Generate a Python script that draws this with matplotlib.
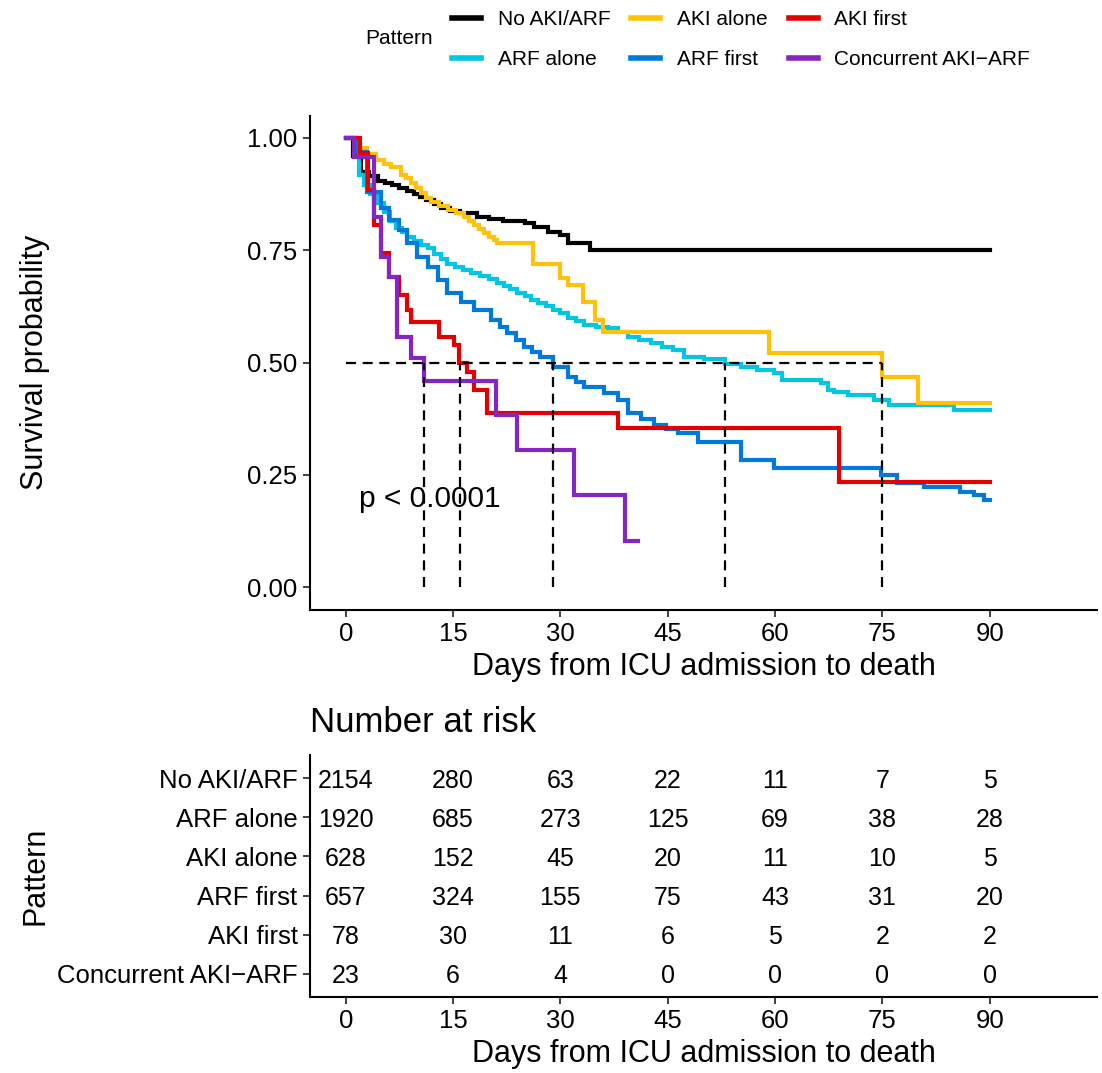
import numpy as np
import matplotlib
matplotlib.use("Agg")
import matplotlib.pyplot as plt
from matplotlib.lines import Line2D

plt.rcParams['font.family'] = ['Liberation Sans', 'DejaVu Sans']

# groups, colours
groups = ["No AKI/ARF", "ARF alone", "AKI alone", "ARF first", "AKI first", "Concurrent AKI\u2212ARF"]
colors = ["#000000", "#00C5E3", "#FFC20A", "#0079DD", "#E30000", "#8526C2"]

# Kaplan-Meier step points (time, survival)
t_none = [0, 1.0, 2.1, 3.2, 4.5, 5.5, 6.5, 7.4, 8.5, 9.5, 10.4, 11.2, 12.3, 13.3, 14.6, 16.0, 18.4, 20.0,
          22.0, 25.0, 26.3, 28.2, 30.0, 31.0, 34.2]
s_none = [1.0, 0.96, 0.925, 0.915, 0.905, 0.90, 0.895, 0.889, 0.882, 0.875, 0.868, 0.862, 0.853, 0.844,
          0.838, 0.833, 0.824, 0.82, 0.815, 0.81, 0.802, 0.79, 0.784, 0.766, 0.75]

t_arf = [0, 1.8, 2.6, 3.4, 4.5, 5.3, 6.2, 7.0, 7.8, 8.6, 9.6, 10.5, 11.5, 12.4, 13.3, 14.2, 15.3, 16.4,
         17.5, 18.8, 20.0, 21.2, 22.1, 23.0, 24.0, 25.0, 25.9, 26.8, 28.0, 29.0, 30.0, 31.0, 32.2, 33.3,
         35.0, 36.6, 38.0, 39.4, 41.0, 42.6, 44.2, 45.8, 47.3, 50.0, 53.0, 55.2, 57.5, 59.8, 61.0, 66.4,
         67.4, 68.2, 70.2, 73.8, 75.9, 85.0]
s_arf = [1.0, 0.917, 0.895, 0.875, 0.855, 0.835, 0.815, 0.80, 0.79, 0.78, 0.77, 0.762, 0.755, 0.742, 0.73,
         0.72, 0.712, 0.705, 0.70, 0.692, 0.685, 0.677, 0.67, 0.663, 0.655, 0.647, 0.64, 0.632, 0.625,
         0.617, 0.61, 0.60, 0.592, 0.583, 0.58, 0.577, 0.567, 0.557, 0.55, 0.543, 0.535, 0.528, 0.512,
         0.507, 0.497, 0.49, 0.484, 0.477, 0.461, 0.454, 0.439, 0.434, 0.428, 0.416, 0.405, 0.394]

t_aki = [0, 1.6, 3.0, 4.2, 5.3, 6.3, 7.7, 8.4, 9.1, 9.8, 10.5, 11.2, 11.9, 13.0, 14.3, 15.4, 16.5, 17.2,
         17.9, 18.6, 19.3, 20.0, 20.7, 21.2, 26.1, 30.0, 31.0, 33.1, 34.9, 35.9, 59.1, 75.0, 80.0]
s_aki = [1.0, 0.978, 0.965, 0.951, 0.943, 0.935, 0.918, 0.91, 0.90, 0.889, 0.877, 0.867, 0.857, 0.848,
         0.84, 0.832, 0.824, 0.815, 0.806, 0.797, 0.788, 0.78, 0.773, 0.766, 0.72, 0.688, 0.672, 0.635,
         0.594, 0.568, 0.521, 0.468, 0.41]

t_arf1 = [0, 1.4, 3.0, 4.9, 6.0, 7.5, 8.6, 10.0, 11.5, 12.9, 14.2, 16.1, 17.9, 20.3, 21.5, 22.6, 23.8,
          24.9, 26.0, 27.2, 28.9, 31.0, 32.2, 33.3, 36.1, 38.0, 39.4, 41.2, 43.1, 44.8, 46.4, 49.2, 55.2,
          59.8, 74.8, 77.1, 80.8, 85.9, 87.8, 89.2]
s_arf1 = [1.0, 0.968, 0.88, 0.845, 0.817, 0.795, 0.766, 0.735, 0.713, 0.684, 0.655, 0.635, 0.617, 0.595,
          0.58, 0.566, 0.55, 0.535, 0.523, 0.512, 0.49, 0.468, 0.456, 0.445, 0.432, 0.416, 0.388, 0.375,
          0.361, 0.352, 0.343, 0.323, 0.283, 0.265, 0.249, 0.232, 0.223, 0.212, 0.205, 0.194]

t_aki1 = [0, 2.0, 3.1, 4.0, 4.9, 6.0, 7.4, 8.6, 9.1, 13.0, 15.1, 15.8, 17.0, 17.9, 19.8, 38.0, 68.9]
s_aki1 = [1.0, 0.967, 0.884, 0.806, 0.744, 0.69, 0.65, 0.617, 0.59, 0.557, 0.539, 0.499, 0.479, 0.439,
          0.388, 0.354, 0.234]

t_conc = [0, 1.1, 4.0, 4.9, 6.0, 7.1, 9.1, 10.9, 21.0, 24.0, 31.9, 39.0]
s_conc = [1.0, 0.957, 0.824, 0.735, 0.69, 0.556, 0.51, 0.459, 0.383, 0.305, 0.205, 0.102]

end_times = [90, 90, 90, 90, 90, 40.8]
curves = [(t_none, s_none), (t_arf, s_arf), (t_aki, s_aki), (t_arf1, s_arf1), (t_aki1, s_aki1), (t_conc, s_conc)]
medians = [10.9, 15.9, 28.9, 53.0, 75.0]

# numbers at risk
risk_times = [0, 15, 30, 45, 60, 75, 90]
risk = {
    "No AKI/ARF": [2154, 280, 63, 22, 11, 7, 5],
    "ARF alone": [1920, 685, 273, 125, 69, 38, 28],
    "AKI alone": [628, 152, 45, 20, 11, 10, 5],
    "ARF first": [657, 324, 155, 75, 43, 31, 20],
    "AKI first": [78, 30, 11, 6, 5, 2, 2],
    "Concurrent AKI\u2212ARF": [23, 6, 4, 0, 0, 0, 0],
}

W, H = 1102, 1073
fig = plt.figure(figsize=(W / 100, H / 100), dpi=100)

def style(ax):
    for sp in ["top", "right"]:
        ax.spines[sp].set_visible(False)
    for sp in ["left", "bottom"]:
        ax.spines[sp].set_linewidth(1.5)
    ax.tick_params(axis="both", length=5, width=1.3, labelsize=18.5, colors="#333333", labelcolor="black", pad=4)

# survival plot
ax = fig.add_axes([310 / W, 1 - 609.5 / H, 787 / W, 494 / H])
style(ax)
for (t, s), end, c in zip(curves, end_times, colors):
    ax.step(list(t) + [end], list(s) + [s[-1]], where="post", color=c, lw=3, solid_joinstyle="miter")
dash = (0, (4.5, 3))
ax.plot([0, max(medians)], [0.5, 0.5], color="black", lw=1.6, linestyle=dash)
for m in medians:
    ax.plot([m, m], [0, 0.5], color="black", lw=1.6, linestyle=dash)
ax.text(1.8, 0.195, "p < 0.0001", fontsize=21.5, va="center", ha="left")
ax.set_xlim(-5, 105)
ax.set_ylim(-0.05, 1.05)
ax.set_xticks(risk_times)
ax.set_yticks([0, 0.25, 0.5, 0.75, 1.0])
ax.set_yticklabels(["0.00", "0.25", "0.50", "0.75", "1.00"])
ax.set_xlabel("Days from ICU admission to death", fontsize=22, labelpad=4)
fig.text(35 / W, 1 - 362 / H, "Survival probability", rotation=90, fontsize=22, ha="center", va="center")

# legend
handles = [Line2D([], [], color=c, lw=4) for c in colors]
fig.legend(handles, groups, ncol=3, frameon=False,
           loc="upper left", bbox_to_anchor=(452 / W, 1 - 10 / H), fontsize=15, handlelength=1.4,
           handletextpad=0.8, columnspacing=1.0, labelspacing=1.0, borderpad=0, borderaxespad=0)
fig.text(365 / W, 1 - 39 / H, "Pattern", fontsize=15, ha="left", va="center")

# risk table
ax2 = fig.add_axes([310 / W, 1 - 997 / H, 787 / W, 242 / H])
style(ax2)
n = len(groups)
for i, g in enumerate(groups):
    y = n - i
    for t, v in zip(risk_times, risk[g]):
        ax2.text(t, y, str(v), ha="center", va="center_baseline", fontsize=18)
ax2.set_xlim(-5, 105)
ax2.set_ylim(0.4, n + 0.6)
ax2.set_xticks(risk_times)
ax2.set_yticks([n - i for i in range(n)])
ax2.set_yticklabels(groups)
ax2.set_xlabel("Days from ICU admission to death", fontsize=22, labelpad=4)
fig.text(35 / W, 1 - 876 / H, "Pattern", rotation=90, fontsize=22, ha="center", va="center")
fig.text(310 / W, 1 - 722 / H, "Number at risk", fontsize=25, ha="left", va="center")

fig.savefig("out.png", dpi=100)
